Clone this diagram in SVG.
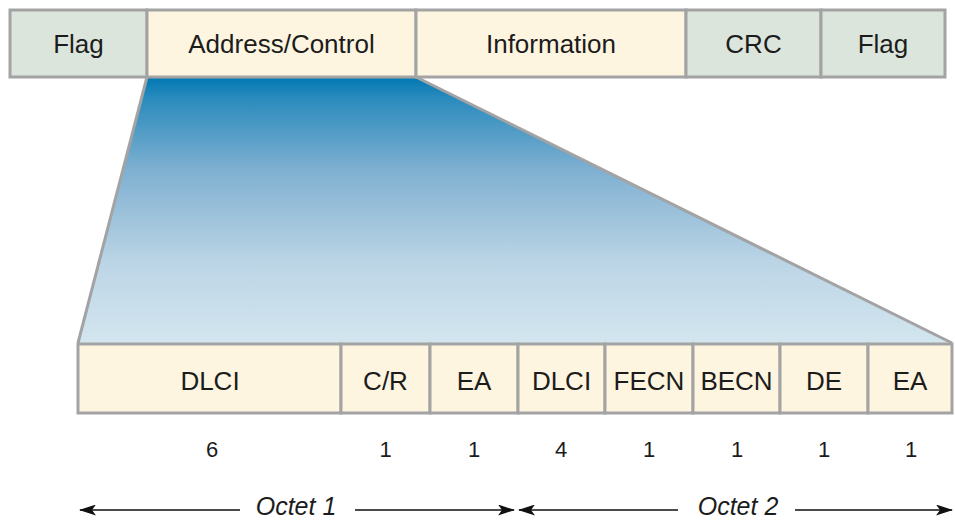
<svg xmlns="http://www.w3.org/2000/svg" width="955" height="521" viewBox="0 0 955 521">
  <style>
    .cell { stroke: #a3a3a3; stroke-width: 3; }
    .ctl { fill: #fdf5df; }
    .grn { fill: #dce5dc; }
    .lbl { font-family: "Liberation Sans", Arial, sans-serif; font-size: 26px; fill: #1c1c1c; text-anchor: middle; }
    .num { font-family: "Liberation Sans", Arial, sans-serif; font-size: 22px; fill: #1c1c1c; text-anchor: middle; }
    .oct { font-family: "Liberation Sans", Arial, sans-serif; font-size: 25px; font-style: italic; fill: #1c1c1c; text-anchor: middle; }
    .arr { stroke: #111; stroke-width: 1.6; fill: none; }
  </style>
  <defs>
    <linearGradient id="fade" x1="0" y1="0" x2="0" y2="1">
      <stop offset="0" stop-color="#0078b2"/>
      <stop offset="0.08" stop-color="#2a8bbd"/>
      <stop offset="0.35" stop-color="#7fb0d1"/>
      <stop offset="0.7" stop-color="#bcd5e6"/>
      <stop offset="1" stop-color="#d3e6ef"/>
    </linearGradient>
    <marker id="head" viewBox="0 0 17 11" refX="16" refY="5.5" markerWidth="17" markerHeight="11" markerUnits="userSpaceOnUse" orient="auto-start-reverse">
      <path d="M0,0 L17,5.5 L0,11 L4,5.5 Z" fill="#111"/>
    </marker>
  </defs>

  <!-- expansion wedge from Address/Control down to the address field -->
  <g id="wedge">
    <polygon points="147,77 416,77 952,343 78,343" fill="url(#fade)"/>
    <polyline points="147,77 78,343" stroke="#a3a3a3" stroke-width="3" fill="none"/>
    <polyline points="416,77 952,343" stroke="#a3a3a3" stroke-width="3" fill="none"/>
  </g>

  <!-- frame layout -->
  <g id="frame-flag1"><rect class="cell grn" x="10" y="10" width="137" height="67"/><text class="lbl" x="78.5" y="53">Flag</text></g>
  <g id="frame-address"><rect class="cell ctl" x="147" y="10" width="269" height="67"/><text class="lbl" x="281.5" y="53">Address/Control</text></g>
  <g id="frame-info"><rect class="cell ctl" x="416" y="10" width="270" height="67"/><text class="lbl" x="551" y="53">Information</text></g>
  <g id="frame-crc"><rect class="cell grn" x="686" y="10" width="135" height="67"/><text class="lbl" x="753.5" y="53">CRC</text></g>
  <g id="frame-flag2"><rect class="cell grn" x="821" y="10" width="124" height="67"/><text class="lbl" x="883" y="53">Flag</text></g>

  <!-- address field bits -->
  <g id="f-dlci1"><rect class="cell ctl" x="78" y="344" width="263" height="69"/><text class="lbl" x="210" y="390">DLCI</text><text class="num" x="212" y="457">6</text></g>
  <g id="f-cr"><rect class="cell ctl" x="341" y="344" width="89" height="69"/><text class="lbl" x="385.5" y="390">C/R</text><text class="num" x="385.5" y="457">1</text></g>
  <g id="f-ea1"><rect class="cell ctl" x="430" y="344" width="88" height="69"/><text class="lbl" x="474" y="390">EA</text><text class="num" x="474" y="457">1</text></g>
  <g id="f-dlci2"><rect class="cell ctl" x="518" y="344" width="87" height="69"/><text class="lbl" x="561.5" y="390">DLCI</text><text class="num" x="561" y="457">4</text></g>
  <g id="f-fecn"><rect class="cell ctl" x="605" y="344" width="88" height="69"/><text class="lbl" x="649" y="390">FECN</text><text class="num" x="649" y="457">1</text></g>
  <g id="f-becn"><rect class="cell ctl" x="693" y="344" width="87" height="69"/><text class="lbl" x="736.5" y="390">BECN</text><text class="num" x="737" y="457">1</text></g>
  <g id="f-de"><rect class="cell ctl" x="780" y="344" width="88" height="69"/><text class="lbl" x="824" y="390">DE</text><text class="num" x="824" y="457">1</text></g>
  <g id="f-ea2"><rect class="cell ctl" x="868" y="344" width="84" height="69"/><text class="lbl" x="910" y="390">EA</text><text class="num" x="911" y="457">1</text></g>

  <!-- octet span arrows -->
  <g id="connectors">
    <line class="arr" x1="240" y1="510" x2="80" y2="510" marker-end="url(#head)"/>
    <line class="arr" x1="355" y1="510" x2="514" y2="510" marker-end="url(#head)"/>
    <line class="arr" x1="678" y1="510" x2="519" y2="510" marker-end="url(#head)"/>
    <line class="arr" x1="795" y1="510" x2="952" y2="510" marker-end="url(#head)"/>
  </g>
  <g id="octet-1"><text class="oct" x="296" y="515">Octet 1</text></g>
  <g id="octet-2"><text class="oct" x="738" y="515">Octet 2</text></g>
</svg>
